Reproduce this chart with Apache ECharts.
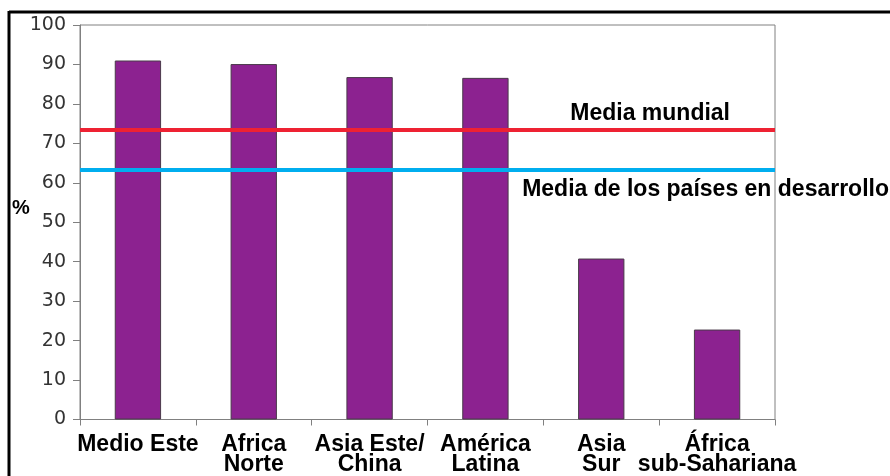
<!DOCTYPE html>
<html><head><meta charset="utf-8">
<script src="https://cdn.jsdelivr.net/npm/echarts@6/dist/echarts.min.js"></script>
<style>html,body{margin:0;padding:0;background:#fff}#c{width:890px;height:476px}</style>
</head><body><div id="c"></div>
<script>
const categories = ['Medio Este', 'Africa\nNorte', 'Asia Este/\nChina', 'América\nLatina', 'Asia\nSur', 'África\nsub-Sahariana'];
const values = [91, 90.1, 86.8, 86.6, 40.8, 22.8];
const mediaMundial = 73.4;
const mediaDesarrollo = 63.4;
const yTicks = { min: 0, max: 100, interval: 10 };

const chart = echarts.init(document.getElementById('c'));
chart.setOption({
  animation: false,
  backgroundColor: '#ffffff',
  grid: { left: 80, top: 25, right: 115, bottom: 56, show: true, borderColor: '#808080', borderWidth: 1, backgroundColor: 'transparent' },
  xAxis: {
    type: 'category', data: categories,
    axisLine: { lineStyle: { color: '#808080', width: 1 } },
    axisTick: { show: true, length: 6, lineStyle: { color: '#808080' } },
    axisLabel: { color: '#000', fontFamily: 'Liberation Sans, Arial', fontWeight: 'bold', fontSize: 23, lineHeight: 20, margin: 15, interval: 0 }
  },
  yAxis: {
    type: 'value', min: yTicks.min, max: yTicks.max, interval: yTicks.interval,
    splitLine: { show: false },
    axisLine: { show: true, lineStyle: { color: '#808080', width: 1 } },
    axisTick: { show: true, length: 7, lineStyle: { color: '#808080' } },
    axisLabel: { color: '#333', fontFamily: 'DejaVu Sans, sans-serif', fontSize: 19, margin: 14 }
  },
  graphic: [
    { type: 'line', shape: { x1: 9, y1: 12, x2: 890, y2: 12 }, style: { stroke: '#000', lineWidth: 3 } },
    { type: 'line', shape: { x1: 9, y1: 11, x2: 9, y2: 476 }, style: { stroke: '#000', lineWidth: 3 } },
    { type: 'text', left: 12, top: 198, style: { text: '%', font: 'bold 20px Liberation Sans, Arial', fill: '#000' } }
  ],
  series: [{
    type: 'bar', data: values, barWidth: '40%',
    itemStyle: { color: '#8c2290', borderColor: '#4a3a4a', borderWidth: 1 },
    markLine: {
      symbol: 'none', silent: true,
      data: [
        { yAxis: mediaMundial, lineStyle: { color: '#ee2233', width: 4, type: 'solid' },
          label: { show: true, formatter: 'Media mundial', position: 'insideEndTop', distance: 5, offset: [-40, 0], color: '#000', fontFamily: 'Liberation Sans, Arial', fontWeight: 'bold', fontSize: 23 } },
        { yAxis: mediaDesarrollo, lineStyle: { color: '#00aeef', width: 4, type: 'solid' },
          label: { show: true, formatter: 'Media de los países en desarrollo', position: 'insideEndBottom', distance: 9, offset: [123, 0], color: '#000', fontFamily: 'Liberation Sans, Arial', fontWeight: 'bold', fontSize: 23 } }
      ]
    }
  }]
});
</script></body></html>
